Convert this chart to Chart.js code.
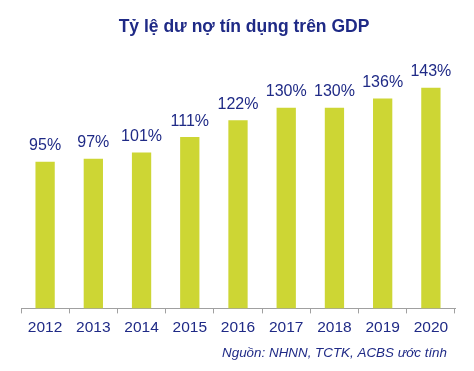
<!DOCTYPE html>
<html>
<head>
<meta charset="utf-8">
<script src="https://cdn.jsdelivr.net/npm/chart.js@4/dist/chart.umd.min.js"></script>
<style>
  html, body { margin: 0; padding: 0; background: #fff; }
  #wrap { width: 474px; height: 371px; }
</style>
</head>
<body>
<div id="wrap"><canvas id="chart" width="474" height="371"></canvas></div>
<script>
  // --- Datos ---
  const years = ['2012', '2013', '2014', '2015', '2016', '2017', '2018', '2019', '2020'];
  const ratio = [95, 97, 101, 111, 122, 130, 130, 136, 143];
  const chartTitle = 'Tỷ lệ dư nợ tín dụng trên GDP';
  const sourceNote = 'Nguồn: NHNN, TCTK, ACBS ước tính';

  const NAVY = '#1f2a86';
  const BAR = '#cdd634';
  const FONT = "'Liberation Sans', Arial, sans-serif";

  // título, etiquetas de valor sobre cada barra y nota de fuente
  const labelPlugin = {
    id: 'labels',
    afterDatasetsDraw(chart) {
      const ctx = chart.ctx;
      const meta = chart.getDatasetMeta(0);
      ctx.save();
      ctx.fillStyle = NAVY;
      ctx.textAlign = 'center';
      ctx.textBaseline = 'middle';
      ctx.font = 'bold 17.5px ' + FONT;
      ctx.fillText(chartTitle, 244, 27);
      ctx.font = '16px ' + FONT;
      meta.data.forEach((bar, i) => {
        ctx.fillText(ratio[i] + '%', bar.x, bar.y - 16);
      });
      ctx.font = 'italic 13.4px ' + FONT;
      ctx.textAlign = 'right';
      ctx.fillText(sourceNote, 447, 353);
      ctx.restore();
    }
  };

  new Chart(document.getElementById('chart'), {
    type: 'bar',
    data: {
      labels: years,
      datasets: [{
        data: ratio,
        backgroundColor: BAR,
        borderWidth: 0,
        categoryPercentage: 0.8,
        barPercentage: 0.5
      }]
    },
    options: {
      responsive: false,
      animation: false,
      layout: { padding: { left: 21, right: 19, top: 61.5, bottom: 29 } },
      plugins: {
        legend: { display: false },
        tooltip: { enabled: false },
        title: { display: false }
      },
      scales: {
        x: {
          offset: true,
          grid: {
            offset: true,
            drawOnChartArea: false,
            drawTicks: true,
            tickLength: 5,
            color: '#a0a0a0'
          },
          border: { display: true, color: '#a0a0a0', width: 1 },
          ticks: {
            color: NAVY,
            padding: 5,
            font: { family: FONT, size: 15.5 }
          }
        },
        y: {
          display: false,
          min: 0,
          max: 160
        }
      }
    },
    plugins: [labelPlugin]
  });
</script>
</body>
</html>
